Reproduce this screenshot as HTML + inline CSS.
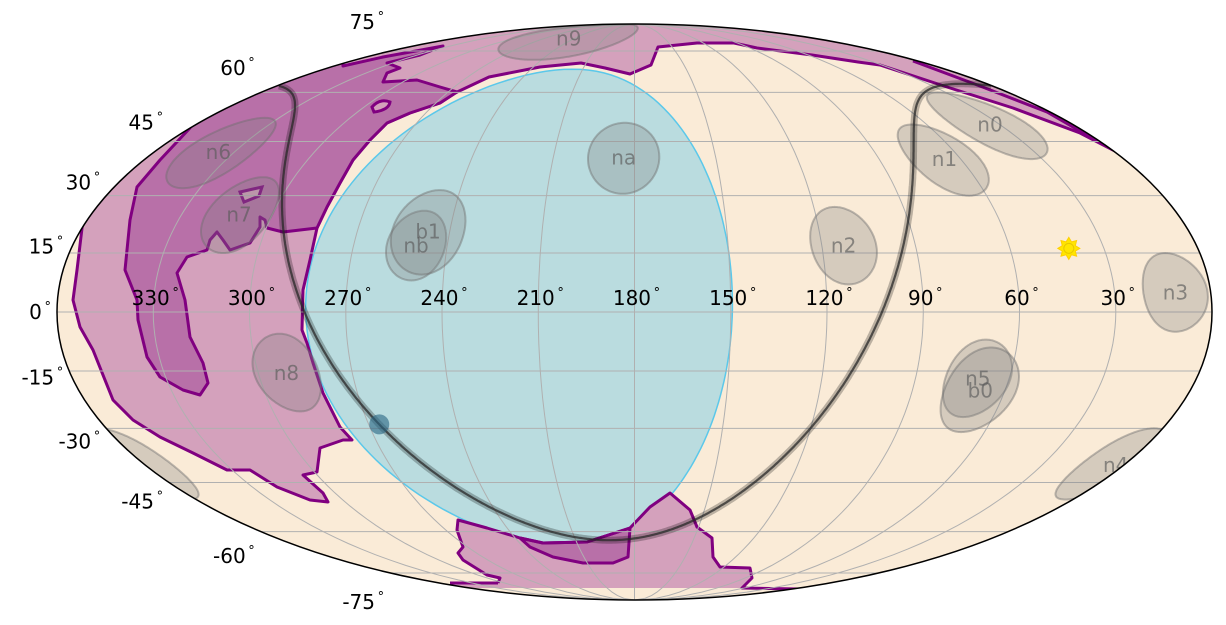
<!DOCTYPE html>
<html><head><meta charset="utf-8"><style>
html,body{margin:0;padding:0;background:#fff;}
svg{display:block;font-family:"DejaVu Sans","Liberation Sans",sans-serif;}
</style></head><body>
<svg id="chart" width="1226" height="625" viewBox="0 0 1226 625" xmlns="http://www.w3.org/2000/svg">
<defs><clipPath id="clip"><ellipse cx="634.5" cy="312" rx="577.5" ry="288"/></clipPath></defs>
<ellipse cx="634.5" cy="312" rx="577.5" ry="288" fill="#faebd7"/>
<g id="clipped" clip-path="url(#clip)">
  <g id="earth"></g>
  <g id="regions">
    <path fill="#d4a1bc" stroke="#800080" stroke-width="3" stroke-linejoin="round" d="M112,180 L40,150 L40,0 L1250,0 L1250,152 L1117,152 L1113,150 L1080,133 L1013,108 L947,87 L880,65 L858,62 L812,55 L757,48 L734,43 L697,43 L658,47 L651,65 L630,74 L605,68 L581,63 L540,67 L489,77 L455,93 L440,103 L410,113 L387,123 L370,140 L353,160 L340,183 L327,207 L317,228 L310,260 L303,290 L302,330 L307,343 L313,363 L323,393 L340,427 L352,440 L343,440 L320,448 L317,472 L303,475 L323,493 L328,502 L310,500 L277,487 L250,470 L227,470 L193,453 L160,437 L133,420 L113,400 L93,350 L80,327 L73,300 L77,270 L83,220 L100,190 Z"/>
    <path fill="none" stroke="#800080" stroke-width="3" d="M913,61 L980,86 L1047,112 L1113,150"/>
    <path fill="#b870a8" stroke="#800080" stroke-width="3" stroke-linejoin="round" d="M190,128 L150,80 L250,20 L343,20 L343,66 L383,57 L443,46 L420,55 L387,63 L400,68 L387,73 L383,82 L417,80 L440,87 L457,92 L440,103 L410,113 L387,123 L370,140 L353,160 L340,183 L327,207 L317,228 L283,232 L267,228 L265,220 L260,217 L260,227 L250,243 L230,250 L223,240 L217,232 L210,240 L207,250 L187,257 L177,273 L185,300 L190,337 L203,363 L208,383 L200,395 L183,390 L160,377 L147,357 L138,320 L137,300 L125,270 L130,220 L137,187 L160,160 Z"/>
    <path fill="#d4a1bc" stroke="#800080" stroke-width="3" d="M372,107 Q380,98 390,102 Q389,110 374,112 Z"/>
    <path fill="#d4a1bc" stroke="#800080" stroke-width="3" d="M240,192 L262,187 L259,196 L244,202 Z"/>
    <path fill="#d4a1bc" stroke="none" d="M458,520 L487,528 L520,538 L543,543 L587,542 L630,528 L650,507 L670,493 L690,510 L697,527 L712,538 L713,557 L720,567 L750,568 L752,578 L742,588 L450,588 L450,583 L498,583 L500,578 L487,575 L463,560 L458,553 L463,547 L457,530 Z"/>
    <path fill="#b870a8" stroke="#800080" stroke-width="3" stroke-linejoin="round" d="M520,538 L543,543 L587,542 L630,528 L628,557 L613,563 L583,563 L553,557 L530,547 Z"/>
    <path fill="none" stroke="#800080" stroke-width="3" stroke-linejoin="round" d="M498,583 L450,583 M498,583 L500,578 L487,575 L463,560 L458,553 L463,547 L457,530 L458,520 L487,528 L520,538 L543,543 L587,542 L630,528 L650,507 L670,493 L690,510 L697,527 L712,538 L713,557 L720,567 L750,568 L752,578 L742,588 L800,589"/>
  </g>
  <g id="grid"></g>
  <g id="detectors"></g>
  <g id="galplane"></g>
</g>
<ellipse cx="634.5" cy="312" rx="577.5" ry="288" fill="none" stroke="#000" stroke-width="1.5"/>
<g id="labels"></g>
<g id="ticks"></g>
</svg>
<script>
const detNames = ["n0","n1","n2","n3","n4","n5","n6","n7","n8","n9","na","nb","b0","b1"];
const detRA    = [34, 66, 113, 11, 3, 70, 336, 311, 291, 245, 184, 250, 68, 247];
const detDec   = [50, 40, 17, 5, -40, -17, 42, 25, -15.5, 80.5, 40.5, 17, -20, 20.5];
const detRadius= [10, 10, 10, 10, 10, 10, 10, 10, 10, 9, 10, 9, 11, 11];
const raTicks  = [330, 300, 270, 240, 210, 180, 150, 120, 90, 60, 30];
const decTicks = [75, 60, 45, 30, 15, 0, -15, -30, -45, -60, -75];
const earthRA = 216, earthDec = 1.5, earthRadius = 66.5;
const sunRA = 41.2, sunDec = 16.2;

const CX=634.5, CY=312, RX=577.5, RY=288, D=Math.PI/180;
const NS="http://www.w3.org/2000/svg";
function theta(dec){const p=Math.PI*Math.sin(dec*D);let t=dec*D;
  if(Math.abs(dec)>=89.999) return Math.sign(dec)*Math.PI/2;
  for(let i=0;i<60;i++){const f=2*t+Math.sin(2*t)-p;const df=2+2*Math.cos(2*t);if(df<1e-9)break;t-=f/df;}return t;}
function lam(ra){let l=180-ra;while(l>180)l-=360;while(l<-180)l+=360;return l;}
function px(l,dec){const t=theta(dec);return [CX+RX*(l/180)*Math.cos(t), CY-RY*Math.sin(t)];}
function proj(ra,dec){return px(lam(ra),dec);}
function el(tag,attrs,parent){const e=document.createElementNS(NS,tag);for(const k in attrs)e.setAttribute(k,attrs[k]);parent.appendChild(e);return e;}
function circlePts(ra0,dec0,r){const pts=[];const a=ra0*D,d=dec0*D,rr=r*D;
  for(let i=0;i<=180;i++){const b=i*2*Math.PI/180;
    const sd=Math.sin(d)*Math.cos(rr)+Math.cos(d)*Math.sin(rr)*Math.cos(b);const dd=Math.asin(sd);
    const da=Math.atan2(Math.sin(b)*Math.sin(rr)*Math.cos(d),Math.cos(rr)-Math.sin(d)*sd);
    pts.push([ (a+da)/D, dd/D ]);}
  const l0=lam(ra0);
  return pts.map(p=>{let l=180-p[0];while(l-l0>180)l-=360;while(l-l0<-180)l+=360;return [l,p[1]];});}
function circlePaths(ra0,dec0,r){const pts=circlePts(ra0,dec0,r);const out=[];
  for(const sh of [0,-360,360]){const ls=pts.map(p=>p[0]+sh);
    if(Math.max(...ls)<-180||Math.min(...ls)>180) continue;
    out.push("M"+pts.map(p=>px(p[0]+sh,p[1]).map(v=>v.toFixed(1)).join(",")).join("L")+"Z");}
  return out;}

const eg=document.getElementById('earth');
circlePaths(earthRA,earthDec,earthRadius).forEach(d=>{
  const p=el('path',{d:d,fill:'#badcdf',stroke:'#5bc8ea','stroke-width':1.5},eg);
  
  
});

const gg=document.getElementById('grid');
for(let m=0;m<360;m+=30){const l=lam(m);if(Math.abs(l)>=180)continue;let d="";
  for(let dec=-90;dec<=90;dec+=2){const q=px(l,dec);d+=(dec===-90?"M":"L")+q[0].toFixed(1)+","+q[1].toFixed(1);}
  const p=el('path',{d:d,fill:'none',stroke:'#b0b0b0','stroke-width':1},gg);
  
  }
decTicks.forEach(dec=>{const a=px(-180,dec),b=px(180,dec);
  const p=el('line',{x1:a[0],y1:a[1],x2:b[0],y2:b[1],stroke:'#b0b0b0','stroke-width':1},gg);
  
  });

const dg=document.getElementById('detectors');
detNames.forEach((n,i)=>{
  circlePaths(detRA[i],detDec[i],detRadius[i]).forEach(d=>{
    const p=el('path',{d:d,fill:'rgba(128,128,128,0.3)',stroke:'rgba(110,110,110,0.45)','stroke-width':2},dg);
    
    });
});
detNames.forEach((n,i)=>{const c=proj(detRA[i],detDec[i]);
  const t=el('text',{x:c[0],y:c[1]+7,'text-anchor':'middle','font-size':20,fill:'rgba(90,90,90,0.65)'},dg);
  t.textContent=n;
  
  });

const aG=192.859*D,dG=27.128*D,lN=122.932*D;
const gal=[];for(let l=0;l<=360;l+=0.5){const lr=l*D;
  const sd=Math.cos(dG)*Math.cos(lN-lr);const dd=Math.asin(sd);
  const ra=(Math.atan2(Math.sin(lN-lr),-Math.sin(dG)*Math.cos(lN-lr))+aG)/D;
  gal.push([((ra%360)+360)%360,dd/D]);}
const gp=document.getElementById('galplane');let segs=[],cur=[],prevL=null;
gal.forEach(g=>{const L=lam(g[0]);if(prevL!==null&&Math.abs(L-prevL)>180){segs.push(cur);cur=[];}cur.push(proj(g[0],g[1]));prevL=L;});segs.push(cur);
segs.forEach(s=>{if(s.length<2)return;const d="M"+s.map(q=>q[0].toFixed(1)+","+q[1].toFixed(1)).join("L");
  const h=el('path',{d:d,fill:'none',stroke:'rgba(0,0,0,0.25)','stroke-width':7},gp);
  
  
  const p=el('path',{d:d,fill:'none',stroke:'rgba(40,40,40,0.75)','stroke-width':2.2},gp);
  
  });
const gc=gal[0];const gcp=proj(gc[0],gc[1]);
const gcc=el('circle',{cx:gcp[0],cy:gcp[1],r:10,fill:'rgba(40,100,130,0.6)'},gp);



const sp=proj(sunRA,sunDec);const sg=document.getElementById('labels');
let sd="";for(let k=0;k<16;k++){const r=k%2?7:11;const a=k*Math.PI/8;sd+=(k?"L":"M")+(sp[0]+r*Math.cos(a)).toFixed(1)+","+(sp[1]+r*Math.sin(a)).toFixed(1);}
const sun=el('path',{d:sd+"Z",fill:'#ffe600',stroke:'#ffd000','stroke-width':1},sg);


const sunc=el('circle',{cx:sp[0],cy:sp[1],r:5,fill:'none',stroke:'#e8c800','stroke-width':1},sg);



const tg=document.getElementById('ticks');
function label(x,y,txt,anchor,name){const t=el('text',{x:x,y:y,'text-anchor':anchor,'font-size':20,fill:'#000'},tg);
  t.appendChild(document.createTextNode(txt));
  const s=el('tspan',{'font-size':13,dy:-8},t);s.textContent="\u2009°";
  
  }
raTicks.forEach(ra=>{const q=proj(ra,0);label(q[0]+2,q[1]-7,String(ra),'middle','ra-tick-'+ra);});
decTicks.forEach(dec=>{const t=theta(dec);const xe=CX-RX*Math.cos(t);const y=CY-RY*Math.sin(t)-32*Math.sin(t);
  label(xe-6,y+7,String(dec),'end','dec-tick-'+dec);});
</script>
</body></html>
